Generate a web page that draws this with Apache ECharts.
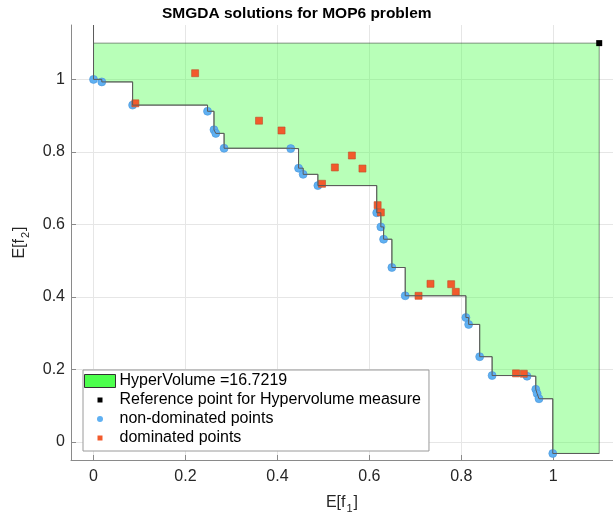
<!DOCTYPE html>
<html>
<head>
<meta charset="utf-8">
<script src="https://cdn.jsdelivr.net/npm/echarts@6/dist/echarts.min.js"></script>
<style>
html,body{margin:0;padding:0;background:#fff;}
#chart{width:613px;height:513px;}
</style>
</head>
<body>
<div id="chart"></div>
<script>
// ---- data ----
const titleText = 'SMGDA solutions for MOP6 problem';
const hvLabel = 'HyperVolume =16.7219';
const refLabel = 'Reference point for Hypervolume measure';
const ndLabel = 'non-dominated points';
const dLabel = 'dominated points';

const refPoint = [1.1, 1.1];

const ndX = [0.000, 0.018, 0.085, 0.248, 0.262, 0.266, 0.284, 0.429, 0.446, 0.456, 0.488, 0.616, 0.625,
             0.631, 0.649, 0.678, 0.810, 0.816, 0.840, 0.867, 0.943, 0.962, 0.965, 0.969, 0.999];
const ndY = [1.000, 0.993, 0.929, 0.912, 0.861, 0.851, 0.810, 0.809, 0.755, 0.738, 0.707, 0.632, 0.593,
             0.559, 0.481, 0.403, 0.343, 0.324, 0.235, 0.183, 0.181, 0.145, 0.133, 0.119, -0.032];

const dX = [0.091, 0.221, 0.360, 0.409, 0.497, 0.525, 0.562, 0.585, 0.618, 0.625, 0.707, 0.733, 0.778, 0.788, 0.919, 0.936];
const dY = [0.934, 1.017, 0.886, 0.859, 0.712, 0.757, 0.790, 0.754, 0.653, 0.633, 0.403, 0.436, 0.435, 0.414, 0.189, 0.188];

const xLim = [-0.049, 1.13];
const yLim = [-0.05, 1.15];
const tickValues = [0, 0.2, 0.4, 0.6, 0.8, 1];
const tickLabels = ['0', '0.2', '0.4', '0.6', '0.8', '1'];

// ---- derived geometry (in data space) ----
const ndPts = ndX.map((x, i) => [x, ndY[i]]);
const dPts = dX.map((x, i) => [x, dY[i]]);

// staircase boundary of the dominated region
const stair = [[ndX[0], ndY[0]]];
for (let i = 1; i < ndX.length; i++) {
  stair.push([ndX[i], ndY[i - 1]]);
  stair.push([ndX[i], ndY[i]]);
}
const last = ndY[ndY.length - 1];
const stairLine = [[ndX[0], yLim[1]]].concat(stair, [[refPoint[0], last]]);
const hvPolygon = [[ndX[0], refPoint[1]]].concat(stair, [[refPoint[0], last], [refPoint[0], refPoint[1]]]);

const FONT = '"Liberation Sans", Arial, Helvetica, sans-serif';
const labelOf = v => {
  const i = tickValues.findIndex(t => Math.abs(t - v) < 1e-9);
  return i >= 0 ? tickLabels[i] : '';
};

const chart = echarts.init(document.getElementById('chart'), null, {renderer: 'canvas'});
const axisCommon = {
  type: 'value',
  axisLine: {show: true, onZero: false, lineStyle: {color: '#8a8a8a', width: 1}},
  axisTick: {show: true, inside: true, length: 5, customValues: tickValues, lineStyle: {color: '#8a8a8a'}},
  axisLabel: {customValues: tickValues, formatter: labelOf, color: '#262626', fontSize: 16, fontFamily: FONT},
  splitLine: {show: true, lineStyle: {color: '#e6e6e6', width: 1}},
  nameLocation: 'middle',
  nameTextStyle: {
    color: '#262626', fontFamily: FONT,
    rich: {
      a: {fontSize: 16, fontFamily: FONT, color: '#262626', lineHeight: 18},
      s: {fontSize: 11, fontFamily: FONT, color: '#262626', lineHeight: 11, padding: [14, 1, 0, 1]}
    }
  }
};

const option = {
  animation: false,
  backgroundColor: '#fff',
  title: {
    text: titleText, left: 162, top: 6, padding: 0,
    textStyle: {fontSize: 15.5, fontWeight: 'bold', color: '#000', fontFamily: FONT}
  },
  grid: {left: 71, right: 0, top: 25, bottom: 53, containLabel: false, outerBoundsMode: 'none'},
  xAxis: Object.assign({}, axisCommon, {
    min: xLim[0], max: xLim[1],
    name: '{a|E[f}{s|1}{a|]}', nameGap: 13,
    axisLabel: Object.assign({}, axisCommon.axisLabel, {margin: 9})
  }),
  yAxis: Object.assign({}, axisCommon, {
    min: yLim[0], max: yLim[1],
    name: '{a|E[f}{s|2}{a|]}', nameGap: 30, nameRotate: 90,
    axisLabel: Object.assign({}, axisCommon.axisLabel, {margin: 6})
  }),
  legend: {
    orient: 'vertical', left: 83, top: 370,
    backgroundColor: '#fff', borderColor: '#9a9a9a', borderWidth: 1,
    padding: [3, 8, 5, 1],
    itemWidth: 31, itemHeight: 13, itemGap: 3,
    selectedMode: false,
    textStyle: {fontSize: 16, color: '#000', fontFamily: FONT, padding: [0, 0, 0, -1]},
    data: [
      {name: hvLabel, icon: 'rect', itemStyle: {color: '#4dff4d', borderColor: '#333', borderWidth: 1}},
      {name: refLabel, icon: 'path://M0,0M31,13M13,4L18,4L18,9L13,9Z', itemStyle: {color: '#000', borderWidth: 0}},
      {name: ndLabel, icon: 'path://M0,0M31,13M18.5,6.5A3,3,0,1,1,12.5,6.5A3,3,0,1,1,18.5,6.5Z', itemStyle: {color: '#5fb0f2', borderWidth: 0}},
      {name: dLabel, icon: 'path://M0,0M31,13M13,4L18,4L18,9L13,9Z', itemStyle: {color: '#f25a2c', borderWidth: 0}}
    ]
  },
  series: [
    {
      type: 'custom', name: hvLabel, silent: true, clip: true,
      data: [refPoint],
      renderItem: function (params, api) {
        const pts = hvPolygon.map(p => api.coord(p));
        return {
          type: 'polygon',
          shape: {points: pts},
          style: {fill: 'rgba(77,255,77,0.4)', stroke: 'rgba(40,60,40,0.55)', lineWidth: 1}
        };
      }
    },
    {
      type: 'line', name: 'stairs', data: stairLine, symbol: 'none', silent: true,
      lineStyle: {color: '#5a5a5a', width: 1}
    },
    {
      type: 'scatter', name: ndLabel, data: ndPts, symbol: 'circle', symbolSize: 8,
      itemStyle: {color: '#5fb0f2', borderColor: '#4a95d8', borderWidth: 0.6, opacity: 1}
    },
    {
      type: 'scatter', name: dLabel, data: dPts, symbol: 'rect', symbolSize: 7,
      itemStyle: {color: '#f25a2c', borderColor: '#c04e28', borderWidth: 0.6, opacity: 1}
    },
    {
      type: 'scatter', name: refLabel, data: [refPoint], symbol: 'rect', symbolSize: 6,
      itemStyle: {color: '#000', opacity: 1}
    }
  ]
};
chart.setOption(option);
</script>
</body>
</html>
